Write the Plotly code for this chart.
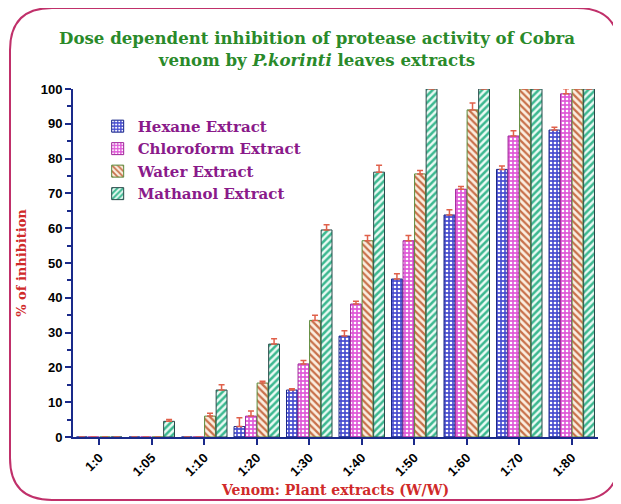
import plotly.graph_objects as go

categories = ["1:0", "1:05", "1:10", "1:20", "1:30", "1:40", "1:50", "1:60", "1:70", "1:80"]
hexane = [0, 0, 0, 3, 13.5, 29, 45.4, 63.8, 76.9, 88.2]
hexane_err = [None, None, None, 2.5, 0.4, 1.5, 1.5, 1.5, 1.0, 0.8]
chloroform = [0, 0, 0, 6, 21, 38.2, 56.4, 71.2, 86.5, 98.6]
chloroform_err = [None, None, None, 1.5, 1.0, 0.8, 1.5, 0.8, 1.5, 1.5]
water = [0, 0, 6, 15.5, 33.5, 56.4, 75.6, 94, 100, 100]
water_err = [None, None, 0.8, 0.5, 1.5, 1.5, 1.0, 2.0, None, None]
methanol = [0, 4.5, 13.5, 26.7, 59.5, 76.1, 100, 100, 100, 100]
methanol_err = [None, 0.5, 1.5, 1.5, 1.5, 2.0, None, None, None, None]

series = [
    ("Hexane Extract", hexane, hexane_err, "#4a4fd0", "#ffffff", ".", "#1c2a8a", 4, 0.35),
    ("Chloroform Extract", chloroform, chloroform_err, "#e05ad8", "#ffffff", ".", "#a02a9a", 4, 0.35),
    ("Water Extract", water, water_err, "#fbeee0", "#c8704a", "\\", "#5a8a3a", 5, 0.45),
    ("Mathanol Extract", methanol, methanol_err, "#eafaf4", "#3cb890", "/", "#2a4a4a", 5, 0.5),
]

fig = go.Figure()
for name, vals, err, bg, fg, shape, line, size, sol in series:
    fig.add_trace(go.Bar(
        name=name, x=categories, y=vals,
        marker=dict(color=bg, line=dict(color=line, width=1),
                    pattern=dict(shape=shape, fgcolor=fg, bgcolor=bg, size=size, solidity=sol, fillmode="replace")),
        error_y=dict(type="data", array=err, arrayminus=[0] * len(err), symmetric=False,
                     color="#e0604a", thickness=1.5, width=3),
    ))

# page has an 8px body margin; figure sized to fit the window
OFF = 8
W, H = 621 - OFF, 504 - OFF
L, T = 73 - OFF, 89 - OFF
R = W - (598 - OFF)
B = H - (437 - OFF)
pw, ph = W - L - R, H - T - B

def px(x):
    return (x - OFF - L) / pw

def py(y):
    return (H - B - (y - OFF)) / ph

x0, x1, y0, y1, rad = 10, 619, 8, 500, 42
path = (f"M {px(x0 + rad)},{py(y0)} L {px(x1 - rad)},{py(y0)} Q {px(x1)},{py(y0)} {px(x1)},{py(y0 + rad)} "
        f"L {px(x1)},{py(y1 - rad)} Q {px(x1)},{py(y1)} {px(x1 - rad)},{py(y1)} "
        f"L {px(x0 + rad)},{py(y1)} Q {px(x0)},{py(y1)} {px(x0)},{py(y1 - rad)} "
        f"L {px(x0)},{py(y0 + rad)} Q {px(x0)},{py(y0)} {px(x0 + rad)},{py(y0)} Z")

fig.update_layout(
    width=W, height=H,
    margin=dict(l=L, r=R, t=T, b=B),
    paper_bgcolor="white", plot_bgcolor="white",
    barmode="group", bargap=0.12, bargroupgap=0.06,
    title=dict(text="Dose dependent inhibition of protease activity of Cobra<br>venom by <i>P.korinti</i> leaves extracts",
               x=(317 - OFF) / W, xref="container", xanchor="center", y=0.927, yanchor="middle",
               font=dict(family="DejaVu Serif", size=16.6, color="#2a8a2a", weight="bold")),
    legend=dict(x=0.047, y=0.94, xanchor="left", yanchor="top", bgcolor="rgba(0,0,0,0)",
                font=dict(family="DejaVu Serif", size=15, color="#8a1a8a", weight="bold"),
                tracegroupgap=2, itemwidth=30),
    xaxis=dict(range=[-0.5, 9.5], showline=True, linecolor="#1a2a8a", linewidth=2, automargin=False,
               layer="above traces",
               ticks="outside", ticklen=6, tickwidth=2, tickcolor="#1a2a8a", tickangle=-45,
               tickfont=dict(family="Liberation Sans", size=13, color="black", weight="bold"),
               title=dict(text="Venom: Plant extracts (W/W)", standoff=7,
                          font=dict(family="DejaVu Serif", size=14, color="#d02a2a", weight="bold")),
               showgrid=False, zeroline=False),
    yaxis=dict(range=[0, 100], dtick=10, showline=True, linecolor="#1a2a8a", linewidth=2, automargin=False,
               ticks="outside", ticklen=6, tickwidth=2, tickcolor="#1a2a8a",
               minor=dict(dtick=5, ticks="outside", ticklen=4, tickcolor="#1a2a8a", tickwidth=1.5, showgrid=False),
               tickfont=dict(family="Liberation Sans", size=13, color="black", weight="bold"),
               title=dict(text="% of inhibition", standoff=11,
                          font=dict(family="DejaVu Serif", size=13, color="#d02a2a", weight="bold")),
               showgrid=False, zeroline=False),
    shapes=[dict(type="path", xref="paper", yref="paper", path=path,
                 line=dict(color="#c0306a", width=2), fillcolor="rgba(0,0,0,0)", layer="below")],
)

fig.write_html("out.html")
